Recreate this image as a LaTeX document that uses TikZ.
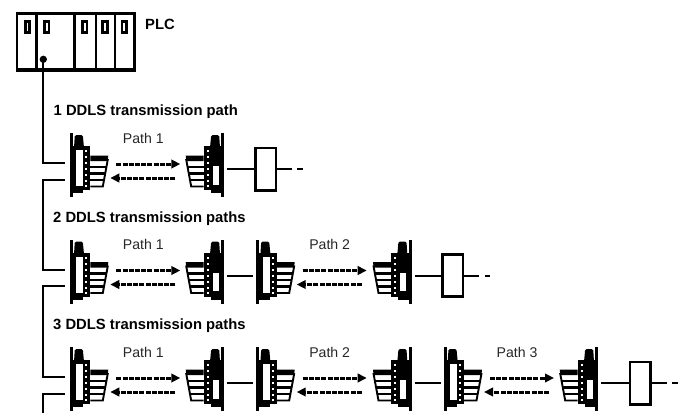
\documentclass[tikz,border=0pt]{standalone}
\usepackage{fontspec}
\setmainfont{Liberation Sans}
\usetikzlibrary{arrows.meta}
\newcommand{\ddlsbody}{%
    \fill[black] (-1.5,-38) -- (1.5,-38) -- (1.5,26) -- (-1.5,26) -- cycle;
    \fill[black,rounded corners=1.5pt] (3.5,-36) -- (11.5,-36) -- (13,-20) -- (2.5,-20) -- cycle;
    \fill[black] (1,-25) rectangle (19,19);
    \fill[black] (1,19) rectangle (12,22);
    \foreach \yy in {-21,-15,-9,-3,3,9,14} \fill[white] (14,\yy) rectangle (16,\yy+2);
    \fill[black] (19,-15.5) -- (37,-15.5) -- (36.4,-10) -- (19,-10) -- cycle;
    \draw[line width=1.9pt] (36.6,-12) -- (31.5,15.5) -- (19,15.5);
    \foreach \yy in {-4,2.5,9} \draw[line width=2.2pt] (19,\yy) -- ({36.6-(\yy+12)*5.1/27.5},\yy);
    \coordinate (-west) at (-4.5,-2);
    \coordinate (-up) at (-6.5,-7.7);
    \coordinate (-down) at (-6.5,8.8);
    \coordinate (-beamAstart) at (45,-7);
    \coordinate (-beamAend) at (109,-7);
    \coordinate (-beamBstart) at (104,7);
    \coordinate (-beamBend) at (39,7);
    \coordinate (-label) at (72,-28);
}
\tikzset{
  wire/.style={line width=2pt,black},
  plcline/.style={line width=2.6pt,black},
  slot/.style={draw=black,line width=2.7pt,fill=white,minimum width=4.4pt,minimum height=11.6pt,inner sep=0pt},
  beam/.style={line width=3pt,black,dash pattern=on 5pt off 1.2pt,-{Triangle[length=9pt,width=8.5pt]}},
  head/.style={font=\bfseries\fontsize{14.8}{17}\selectfont,anchor=base west,inner sep=0pt},
  pathlabel/.style={font=\fontsize{14.1}{17}\selectfont,anchor=base,inner sep=0pt,text=black!85},
  loadbox/.style={draw=black,line width=2.6pt,fill=white,minimum width=20.6pt,minimum height=42.4pt,inner sep=0pt},
  ddlsfull/.pic={\ddlsbody \fill[white] (5,-21) rectangle (12,15);},
  ddlsshort/.pic={\ddlsbody \fill[white] (4,-5) rectangle (10,13.5);}
}
\begin{document}
\begin{tikzpicture}[x=1pt,y=-1pt]
\useasboundingbox (0,0) rectangle (680,413);
% PLC rack
\node[draw=black,line width=2.8pt,minimum width=117.5pt,minimum height=56.5pt,inner sep=0pt] (plc) at (75.8,42) {};
\fill[black] (15.7,68.3) rectangle (136,71.7);
\foreach \xx in {36.3,74.7,95.8,115} \draw[plcline] (\xx,14) -- (\xx,70);
\node[slot] (s1) at (27.4,27) {};
\node[slot] (s2) at (46.7,27) {};
\node[slot] (s3) at (84.7,27) {};
\node[slot] (s4) at (105,27) {};
\node[slot] (s5) at (124.3,27) {};
\node[circle,fill=black,minimum size=7.3pt,inner sep=0pt] (cpu) at (43.3,59.3) {};
\node[head] (plclabel) at (145,29.5) {PLC};
% headings
\node[head] (h1) at (53.5,115) {1 DDLS transmission path};
\node[head] (h2) at (53,222) {2 DDLS transmission paths};
\node[head] (h3) at (53,329) {3 DDLS transmission paths};
% row 1
\pic (a1) at (71.3,171) {ddlsfull};
\pic[xscale=-1] (b1) at (222.7,171) {ddlsshort};
\node[loadbox] (load1) at (265.6,169) {};
\node[pathlabel] (p11) at (a1-label) {Path 1};
\draw[beam] (a1-beamAstart) -- (a1-beamAend);
\draw[beam] (a1-beamBstart) -- (a1-beamBend);
\coordinate (t1) at (291.7,169);
\coordinate (u1) at (297.3,169);
\coordinate (v1) at (302.7,169);
\draw[wire] (b1-west) -- (load1);
\draw[wire] (load1) -- (t1);
\draw[wire] (u1) -- (v1);
% row 2
\pic (a2) at (71.3,277.5) {ddlsfull};
\pic[xscale=-1] (b2) at (222.7,277.5) {ddlsshort};
\pic (a3) at (257.7,277.5) {ddlsfull};
\pic[xscale=-1] (b3) at (410,277.5) {ddlsshort};
\node[loadbox] (load2) at (452.5,275.5) {};
\node[pathlabel] (p21) at (a2-label) {Path 1};
\node[pathlabel] (p22) at (a3-label) {Path 2};
\foreach \n in {a2,a3} {
  \draw[beam] (\n-beamAstart) -- (\n-beamAend);
  \draw[beam] (\n-beamBstart) -- (\n-beamBend);
}
\draw[wire] (b2-west) -- (a3-west);
\coordinate (t2) at (479.3,275.5);
\coordinate (u2) at (485,275.5);
\coordinate (v2) at (490,275.5);
\draw[wire] (b3-west) -- (load2);
\draw[wire] (load2) -- (t2);
\draw[wire] (u2) -- (v2);
% row 3
\pic (a4) at (71.3,385) {ddlsfull};
\pic[xscale=-1] (b4) at (222.7,385) {ddlsshort};
\pic (a5) at (257.7,385) {ddlsfull};
\pic[xscale=-1] (b5) at (410,385) {ddlsshort};
\pic (a6) at (445,385) {ddlsfull};
\pic[xscale=-1] (b6) at (596.7,385) {ddlsshort};
\node[loadbox] (load3) at (640.4,383) {};
\node[pathlabel] (p31) at (a4-label) {Path 1};
\node[pathlabel] (p32) at (a5-label) {Path 2};
\node[pathlabel] (p33) at (a6-label) {Path 3};
\foreach \n in {a4,a5,a6} {
  \draw[beam] (\n-beamAstart) -- (\n-beamAend);
  \draw[beam] (\n-beamBstart) -- (\n-beamBend);
}
\draw[wire] (b4-west) -- (a5-west);
\draw[wire] (b5-west) -- (a6-west);
\coordinate (t3) at (666.7,383);
\coordinate (u3) at (671.7,383);
\coordinate (v3) at (678.3,383);
\draw[wire] (b6-west) -- (load3);
\draw[wire] (load3) -- (t3);
\draw[wire] (u3) -- (v3);
% feeders
\coordinate (rail) at (43.3,413);
\draw[wire] (cpu.center) |- (a1-up);
\draw[wire] (a1-down) -- (rail |- a1-down) -- (rail |- a2-up) -- (a2-up);
\draw[wire] (a2-down) -- (rail |- a2-down) -- (rail |- a4-up) -- (a4-up);
\draw[wire] (a4-down) -- (rail |- a4-down) -- (rail);
\end{tikzpicture}
\end{document}
